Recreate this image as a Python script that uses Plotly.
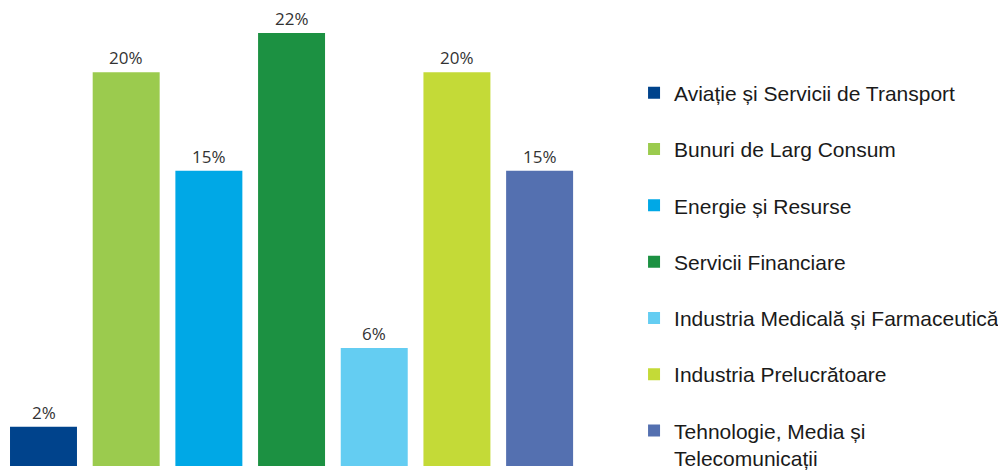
import plotly.graph_objects as go

categories = [
    "Aviație și Servicii de Transport",
    "Bunuri de Larg Consum",
    "Energie și Resurse",
    "Servicii Financiare",
    "Industria Medicală și Farmaceutică",
    "Industria Prelucrătoare",
    "Tehnologie, Media și<br>Telecomunicații",
]
values = [2, 20, 15, 22, 6, 20, 15]
labels = ["2%", "20%", "15%", "22%", "6%", "20%", "15%"]
colors = ["#00438C", "#9BCB4E", "#00A8E6", "#1C9142", "#64CDF2", "#C4DA37", "#5470B0"]

fig = go.Figure()
for i, (cat, val, lab, col) in enumerate(zip(categories, values, labels, colors)):
    fig.add_trace(go.Bar(
        x=[i], y=[val], name=cat, legendgroup=f"g{i}",
        marker=dict(color=col, line=dict(width=0)),
        hoverinfo="skip",
    ))
    fig.add_annotation(
        x=i, y=val, text=lab, showarrow=False,
        xref="x", yref="y", yanchor="bottom", yshift=2, borderpad=0,
        font=dict(family="Open Sans", size=17, color="#333333"),
    )

fig.update_layout(
    width=998, height=462,
    margin=dict(l=0, r=0, t=0, b=4, autoexpand=False),
    paper_bgcolor="white", plot_bgcolor="white",
    barmode="overlay", bargap=0.19,
    xaxis=dict(domain=[0, 0.5741], range=[-0.4293, 6.5], visible=False),
    yaxis=dict(range=[0, 23.27], visible=False),
    showlegend=True,
    legend=dict(
        x=0.6273, y=0.859, xanchor="left", yanchor="top",
        font=dict(family="Liberation Sans, Arial", size=21, color="#1a1a1a"),
        tracegroupgap=26, valign="top", bgcolor="rgba(0,0,0,0)",
        maxheight=1000,
    ),
)

fig.write_html("out.html")
